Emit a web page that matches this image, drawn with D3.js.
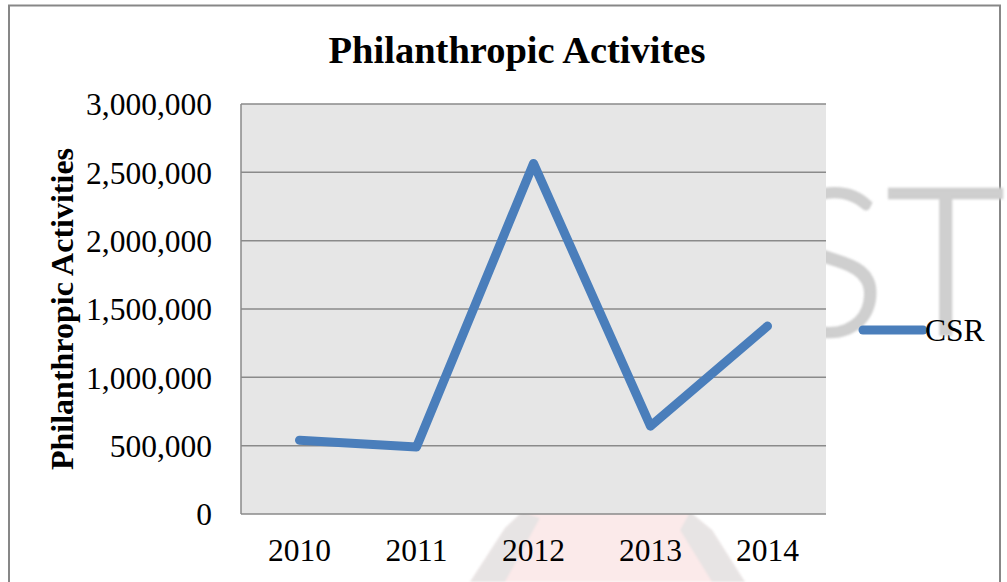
<!DOCTYPE html>
<html>
<head>
<meta charset="utf-8">
<script src="https://cdn.jsdelivr.net/npm/d3@7"></script>
<style>
  html, body { margin: 0; padding: 0; background: #fff; }
  svg { display: block; }
</style>
</head>
<body>
<svg id="chart" width="1007" height="582"></svg>
<script>
// Yearly CSR spending on philanthropic activities
const years = ["2010", "2011", "2012", "2013", "2014"];
const csrValues = [540000, 490000, 2565000, 643000, 1375000];
const yTicks = [0, 500000, 1000000, 1500000, 2000000, 2500000, 3000000];
const seriesName = "CSR";
const chartTitle = "Philanthropic Activites";
const yAxisTitle = "Philanthropic Activities";

const svg = d3.select("#chart");
const plot = { left: 241, right: 826, top: 104, bottom: 514 };
const serif = "'Liberation Serif', 'Times New Roman', serif";
const lineColor = "#4a7ebb";
const gridColor = "#8a8a8a";

// soft edge for the page watermark
const defs = svg.append("defs");
defs.append("filter").attr("id", "soft")
  .append("feGaussianBlur").attr("stdDeviation", 1.2);

// outer chart frame
svg.append("rect")
  .attr("x", 9).attr("y", 5.5).attr("width", 991).attr("height", 590)
  .attr("fill", "#fff").attr("stroke", "#878787").attr("stroke-width", 2);

// faint page watermark behind the chart
const wm = svg.append("g").attr("opacity", 0.35).attr("filter", "url(#soft)");
wm.append("path")
  .attr("d", "M470,582 L505,528 L522,512 L690,512 L712,530 L745,582 Z")
  .attr("fill", "#f6c4c4");
wm.append("path")
  .attr("d", "M470,582 L505,528 L522,512 L540,518 L505,582 Z")
  .attr("fill", "#bdb3b3");
wm.append("path")
  .attr("d", "M745,582 L712,530 L690,512 L680,530 L712,582 Z")
  .attr("fill", "#bdb3b3");
svg.append("text")
  .attr("x", 1005).attr("y", 335)
  .attr("text-anchor", "end")
  .attr("font-family", "Lato, 'Open Sans', sans-serif")
  .attr("font-weight", 300)
  .attr("font-size", 205)
  .attr("fill", "#cfcfcf")
  .attr("stroke", "#cfcfcf")
  .attr("stroke-width", 2.5)
  .attr("filter", "url(#soft)")
  .text("KNUST");

const x = d3.scaleBand().domain(years).range([plot.left, plot.right]);
const y = d3.scaleLinear().domain([0, 3000000]).range([plot.bottom, plot.top]);

// plot area
svg.append("rect")
  .attr("x", plot.left).attr("y", plot.top)
  .attr("width", plot.right - plot.left).attr("height", plot.bottom - plot.top)
  .attr("fill", "#e6e6e6");

// horizontal gridlines
svg.append("g").selectAll("line").data(yTicks).join("line")
  .attr("x1", plot.left).attr("x2", plot.right)
  .attr("y1", d => y(d)).attr("y2", d => y(d))
  .attr("stroke", gridColor).attr("stroke-width", 1.5);

// left plot edge
svg.append("line")
  .attr("x1", plot.left).attr("x2", plot.left)
  .attr("y1", plot.top).attr("y2", plot.bottom)
  .attr("stroke", gridColor).attr("stroke-width", 1.5);

// y axis labels
const yAxis = d3.axisLeft(y).tickValues(yTicks).tickSize(0).tickPadding(29)
  .tickFormat(d3.format(","));
const gy = svg.append("g").attr("transform", `translate(${plot.left},0)`).call(yAxis);
gy.select(".domain").remove();
gy.selectAll("text")
  .attr("font-family", serif).attr("font-size", 31.5).attr("fill", "#000")
  .attr("dy", "0.34em");

// x axis labels
const xAxis = d3.axisBottom(x).tickSize(0).tickPadding(25);
const gx = svg.append("g").attr("transform", `translate(0,${plot.bottom})`).call(xAxis);
gx.select(".domain").remove();
gx.selectAll("text")
  .attr("font-family", serif).attr("font-size", 31.5).attr("fill", "#000");

// data line
const line = d3.line()
  .x((d, i) => x(years[i]) + x.bandwidth() / 2)
  .y(d => y(d));
svg.append("path")
  .datum(csrValues)
  .attr("d", line)
  .attr("fill", "none")
  .attr("stroke", lineColor)
  .attr("stroke-width", 9)
  .attr("stroke-linejoin", "round")
  .attr("stroke-linecap", "round");

// title
svg.append("text")
  .attr("x", 517).attr("y", 63)
  .attr("text-anchor", "middle")
  .attr("font-family", serif).attr("font-weight", "bold").attr("font-size", 38.5)
  .text(chartTitle);

// y axis title
svg.append("text")
  .attr("transform", `translate(73,${(plot.top + plot.bottom) / 2}) rotate(-90)`)
  .attr("text-anchor", "middle")
  .attr("font-family", serif).attr("font-weight", "bold").attr("font-size", 32)
  .text(yAxisTitle);

// legend
const legend = svg.append("g").attr("transform", "translate(863,330)");
legend.append("line")
  .attr("x1", 0).attr("x2", 60).attr("y1", 0).attr("y2", 0)
  .attr("stroke", lineColor).attr("stroke-width", 9).attr("stroke-linecap", "round");
legend.append("text")
  .attr("x", 62).attr("y", 11)
  .attr("font-family", serif).attr("font-size", 31.5)
  .text(seriesName);
</script>
</body>
</html>
